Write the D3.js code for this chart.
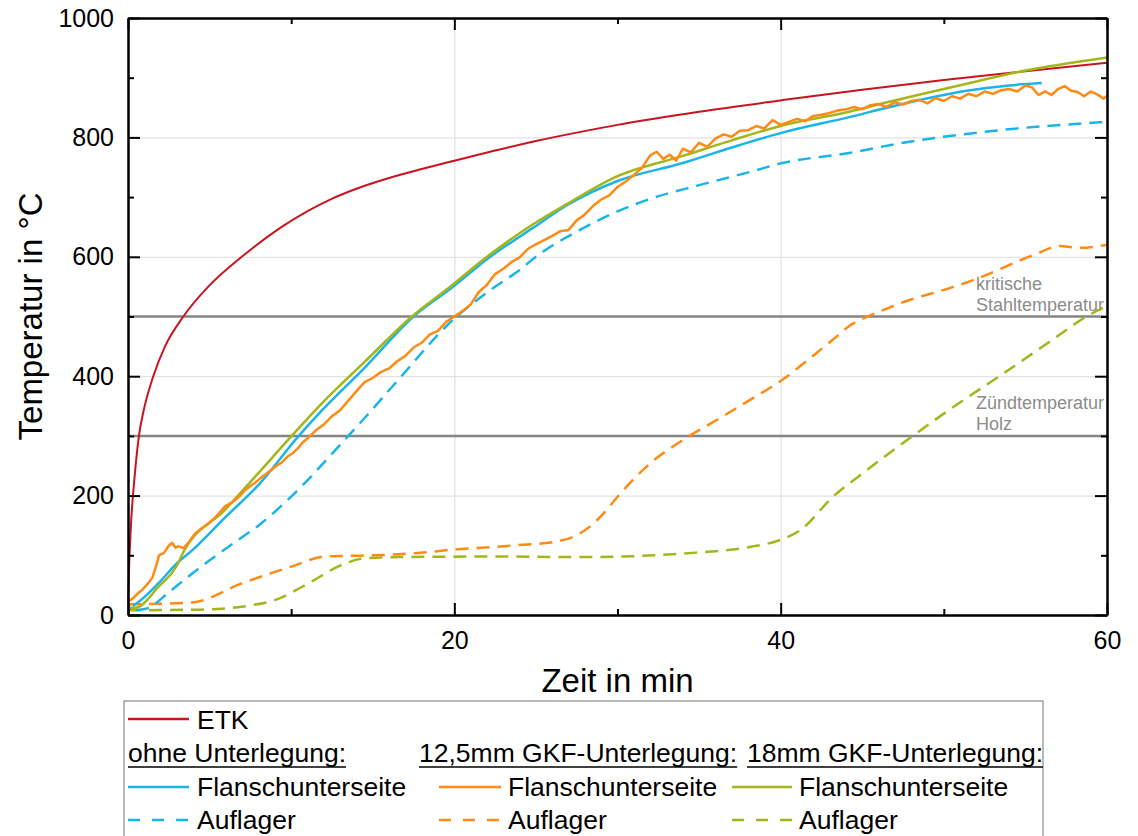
<!DOCTYPE html>
<html>
<head>
<meta charset="utf-8">
<script src="https://cdn.jsdelivr.net/npm/d3@7"></script>
<style>
  body { margin: 0; background: #fff; }
  svg { display: block; font-family: "Liberation Sans", Arial, sans-serif; }
  .grid line { stroke: #e2e2e2; stroke-width: 1.2; }
  .grid path { display: none; }
  .axis path, .axis line { stroke: #000; stroke-width: 2; }
  .axis text { font-size: 25px; fill: #000; font-family: "Liberation Sans", Arial, sans-serif; }
  .series { fill: none; stroke-linejoin: round; stroke-linecap: butt; }
</style>
</head>
<body>
<div id="chart"></div>
<script>
// time in min, temperature in °C
const etk = [[0,20],[0.08,90],[0.2,160],[0.4,230],[0.67,300],[0.94,340],[1.55,400],[2.27,450],[3.39,500],
  [4.92,550],[6.97,600],[9.42,650],[12.48,697],[14,714],[16,732],[18,747],[20,761],[22.5,778],[25,794],
  [27.5,808],[30,821],[35,843],[40,862],[45,880],[50,896],[55,911],[60,925]];

const ohneFlansch = [[0.3,15],[1,30],[2,57],[2.9,84],[4,110],[5.94,163],[8,218],[10.4,298],[12,346],
  [14.5,414],[17.5,500],[19.7,545],[22.2,600],[24.8,648],[27,688],[30,727],[34,757],[37,783],[40.1,808],
  [44.2,834],[46.7,851],[51.4,878],[54,887],[56,891]];
const ohneAuflager = [[0.5,8],[1.25,12],[2.5,38],[3.4,58],[4.92,90],[6.66,124],[8,150],[10.03,199],
  [13.1,288],[14.5,330],[16.5,392],[19.9,494],[22.2,544],[24,578],[25,600],[27.9,648],[30,676],[32,697],
  [35,720],[38.1,742],[40.1,757],[44.2,774],[47.3,790],[53.4,812],[60,826]];

const gkf125Flansch = [[0,22],[0.3,28],[0.6,36],[0.9,43],[1.2,52],[1.5,63],[1.7,80],[1.9,100],[2.2,104],
  [2.5,116],[2.7,121],[2.9,113],[3.1,115],[3.4,112],[3.7,121],[4.1,136],[4.5,145],[4.9,153],[5.3,162],
  [5.6,171],[5.94,182],[6.4,189],[6.8,198],[7.1,207],[7.4,214],[7.8,222],[8.2,231],[8.6,239],[9,248],
  [9.4,255],[9.8,266],[10.1,271],[10.4,279],[10.7,289],[11.05,297],[11.5,309],[12,319],[12.5,333],
  [13,343],[13.5,359],[14.1,378],[14.5,390],[15,397],[15.5,407],[16,413],[16.5,425],[17,434],[17.5,448],
  [18,456],[18.5,470],[19,476],[19.5,491],[20,500],[20.5,509],[21,520],[21.5,541],[22,553],[22.5,571],
  [23,580],[23.5,591],[24,599],[24.5,613],[25,621],[25.5,628],[26,635],[26.5,643],[27,645],[27.5,661],
  [28,671],[28.5,685],[29,696],[29.5,703],[30,717],[30.5,726],[31,737],[31.5,749],[32,770],[32.4,776],
  [32.8,764],[33.2,771],[33.6,761],[34,781],[34.5,775],[35,791],[35.5,784],[36,798],[36.5,805],
  [37,801],[37.5,811],[38,812],[38.5,819],[39,815],[39.5,829],[40,821],[40.5,826],[41,831],[41.5,827],
  [42,836],[42.5,838],[43,841],[43.5,845],[44,847],[44.5,851],[45,847],[45.5,854],[46,856],[46.5,851],
  [47,859],[47.5,855],[48,861],[48.5,863],[49,857],[49.5,866],[50,861],[50.5,869],[51,865],[51.5,873],
  [52,869],[52.5,877],[53,873],[53.5,879],[54,881],[54.5,877],[55,887],[55.4,884],[55.8,871],[56.2,877],
  [56.6,871],[57,881],[57.4,886],[57.8,878],[58.2,876],[58.6,869],[59,877],[59.4,872],[59.8,865],[60,870]];
const gkf125Auflager = [[0,18],[3.9,21],[6.97,53],[10,81],[12.07,98],[13.5,99],[16,101],[18.7,106],
  [19.7,109],[22.4,114],[23.8,117],[26,122],[27.3,131],[28.3,148],[29.2,172],[30,198],[32,254],[34,293],
  [36.1,327],[38.1,360],[40.1,394],[42.2,439],[43.5,468],[44.2,484],[45,496],[46.3,511],[47.3,522],
  [50.4,548],[51.8,561],[55.5,603],[57.1,618],[58.3,615],[60,620]];

const gkf18Flansch = [[0,12],[0.43,12],[1.86,47],[3.08,87],[3.3,100],[5.94,176],[8,238],[10.03,300],
  [12,358],[14.5,424],[17.4,500],[19.7,549],[22,600],[24.8,654],[27,690],[30,735],[34,769],[37,795],
  [40.1,820],[44.2,843],[46.7,860],[51.4,890],[55,912],[60,934]];
const gkf18Auflager = [[0,8],[4.4,9],[5.94,11],[7.5,16],[9,25],[11.05,53],[13.1,84],[14.5,95],[16.7,97],
  [22.8,98],[27.9,97],[34,103],[38.1,114],[40,126],[41.2,142],[43.2,198],[45.3,243],[48,298],[50.4,345],
  [53.4,400],[56.5,458],[58.8,501],[60,518]];

const xTicksMajor = [0, 20, 40, 60];
const xTicksMinor = [10, 30, 50];
const yTicksMajor = [0, 200, 400, 600, 800, 1000];
const yTicksMinor = [100, 300, 500, 700, 900];

const refLines = [300, 500];
const refLabels = [["Zündtemperatur", "Holz"], ["kritische", "Stahltemperatur"]];

const etkColor = "#c8141e";
const groupTitles = ["ohne Unterlegung:", "12,5mm GKF-Unterlegung:", "18mm GKF-Unterlegung:"];
const groupColors = ["#1ab4e8", "#ff8a14", "#a4b61a"];
const rowLabels = ["Flanschunterseite", "Auflager"];

const width = 1138, height = 836;
const plot = {left: 128, right: 1107, top: 18, bottom: 615};

const svg = d3.select("#chart").append("svg")
  .attr("width", width)
  .attr("height", height);

const x = d3.scaleLinear().domain([0, 60]).range([plot.left, plot.right]);
const y = d3.scaleLinear().domain([0, 1000]).range([plot.bottom, plot.top]);

// gridlines
svg.append("g").attr("class", "grid")
  .attr("transform", `translate(0,${plot.bottom})`)
  .call(d3.axisBottom(x).tickValues([20, 40]).tickSize(-(plot.bottom - plot.top)).tickFormat(""));
svg.append("g").attr("class", "grid")
  .attr("transform", `translate(${plot.left},0)`)
  .call(d3.axisLeft(y).tickValues([200, 400, 600, 800]).tickSize(-(plot.right - plot.left)).tickFormat(""));

// reference temperatures
svg.selectAll(".ref").data(refLines).join("line")
  .attr("class", "ref")
  .attr("x1", plot.left).attr("x2", plot.right)
  .attr("y1", d => y(d)).attr("y2", d => y(d))
  .attr("stroke", "#858585").attr("stroke-width", 2.5);

refLines.forEach((v, i) => {
  const t = svg.append("text")
    .attr("font-size", "18px")
    .attr("fill", "#8c8c8c");
  t.append("tspan").attr("x", 976).attr("y", y(v) - 27).text(refLabels[i][0]);
  t.append("tspan").attr("x", 976).attr("y", y(v) - 6).text(refLabels[i][1]);
});

// series
const line = d3.line()
  .x(d => x(d[0]))
  .y(d => y(d[1]))
  .curve(d3.curveMonotoneX);
const jagged = d3.line()
  .x(d => x(d[0]))
  .y(d => y(d[1]));

const series = [
  {data: gkf18Auflager, color: groupColors[2], dash: "13,8", gen: line},
  {data: gkf125Auflager, color: groupColors[1], dash: "13,8", gen: line},
  {data: ohneAuflager, color: groupColors[0], dash: "13,8", gen: line},
  {data: etk, color: etkColor, dash: null, gen: line, w: 2},
  {data: ohneFlansch, color: groupColors[0], dash: null, gen: line},
  {data: gkf18Flansch, color: groupColors[2], dash: null, gen: line},
  {data: gkf125Flansch, color: groupColors[1], dash: null, gen: jagged},
];
series.forEach(s => {
  svg.append("path")
    .attr("class", "series")
    .attr("stroke", s.color)
    .attr("stroke-width", s.w || 2.5)
    .attr("stroke-dasharray", s.dash)
    .attr("d", s.gen(s.data));
});

// axes
svg.append("g").attr("class", "axis")
  .attr("transform", `translate(0,${plot.bottom})`)
  .call(d3.axisBottom(x).tickValues(xTicksMajor).tickSize(-12).tickSizeOuter(0).tickPadding(16));
svg.append("g").attr("class", "axis")
  .attr("transform", `translate(0,${plot.bottom})`)
  .call(d3.axisBottom(x).tickValues(xTicksMinor).tickSize(-6).tickSizeOuter(0).tickFormat(""));
svg.append("g").attr("class", "axis")
  .attr("transform", `translate(0,${plot.top})`)
  .call(d3.axisTop(x).tickValues(xTicksMajor).tickSize(-12).tickSizeOuter(0).tickFormat(""));
svg.append("g").attr("class", "axis")
  .attr("transform", `translate(0,${plot.top})`)
  .call(d3.axisTop(x).tickValues(xTicksMinor).tickSize(-6).tickSizeOuter(0).tickFormat(""));

svg.append("g").attr("class", "axis")
  .attr("transform", `translate(${plot.left},0)`)
  .call(d3.axisLeft(y).tickValues(yTicksMajor).tickSize(-12).tickSizeOuter(0).tickPadding(14)
    .tickFormat(d3.format("d")));
svg.append("g").attr("class", "axis")
  .attr("transform", `translate(${plot.left},0)`)
  .call(d3.axisLeft(y).tickValues(yTicksMinor).tickSize(-6).tickSizeOuter(0).tickFormat(""));
svg.append("g").attr("class", "axis")
  .attr("transform", `translate(${plot.right},0)`)
  .call(d3.axisRight(y).tickValues(yTicksMajor).tickSize(-12).tickSizeOuter(0).tickFormat(""));
svg.append("g").attr("class", "axis")
  .attr("transform", `translate(${plot.right},0)`)
  .call(d3.axisRight(y).tickValues(yTicksMinor).tickSize(-6).tickSizeOuter(0).tickFormat(""));

// axis titles
svg.append("text")
  .attr("x", (plot.left + plot.right) / 2)
  .attr("y", 692)
  .attr("text-anchor", "middle")
  .attr("font-size", "33px")
  .text("Zeit in min");
svg.append("text")
  .attr("transform", `translate(42,${(plot.top + plot.bottom) / 2}) rotate(-90)`)
  .attr("text-anchor", "middle")
  .attr("font-size", "33px")
  .text("Temperatur in °C");

// legend
const legend = svg.append("g");
legend.append("rect")
  .attr("x", 124).attr("y", 701)
  .attr("width", 919).attr("height", 150)
  .attr("fill", "#fff").attr("stroke", "#8a8a8a").attr("stroke-width", 1.2);

legend.append("line")
  .attr("x1", 128).attr("x2", 189).attr("y1", 719).attr("y2", 719)
  .attr("stroke", etkColor).attr("stroke-width", 2.5);
legend.append("text")
  .attr("x", 197).attr("y", 729)
  .attr("font-size", "26.5px")
  .text("ETK");

const headerX = [128, 419, 747];
const sampleX = [[128, 189], [439, 501], [732, 792]];
const labelX = [197, 508, 799];
const rowY = [787, 820];

groupTitles.forEach((g, i) => {
  const t = legend.append("text")
    .attr("x", headerX[i]).attr("y", 762)
    .attr("font-size", "26.5px")
    .text(g);
  const w = t.node().getComputedTextLength();
  legend.append("line")
    .attr("x1", headerX[i]).attr("x2", headerX[i] + w)
    .attr("y1", 767).attr("y2", 767)
    .attr("stroke", "#000").attr("stroke-width", 1.5);

  rowLabels.forEach((r, j) => {
    legend.append("line")
      .attr("x1", sampleX[i][0]).attr("x2", sampleX[i][1])
      .attr("y1", rowY[j]).attr("y2", rowY[j])
      .attr("stroke", groupColors[i])
      .attr("stroke-width", 2.5)
      .attr("stroke-dasharray", j === 1 ? "12,12" : null);
    legend.append("text")
      .attr("x", labelX[i]).attr("y", rowY[j] + 9)
      .attr("font-size", "26.5px")
      .text(r);
  });
});
</script>
</body>
</html>
